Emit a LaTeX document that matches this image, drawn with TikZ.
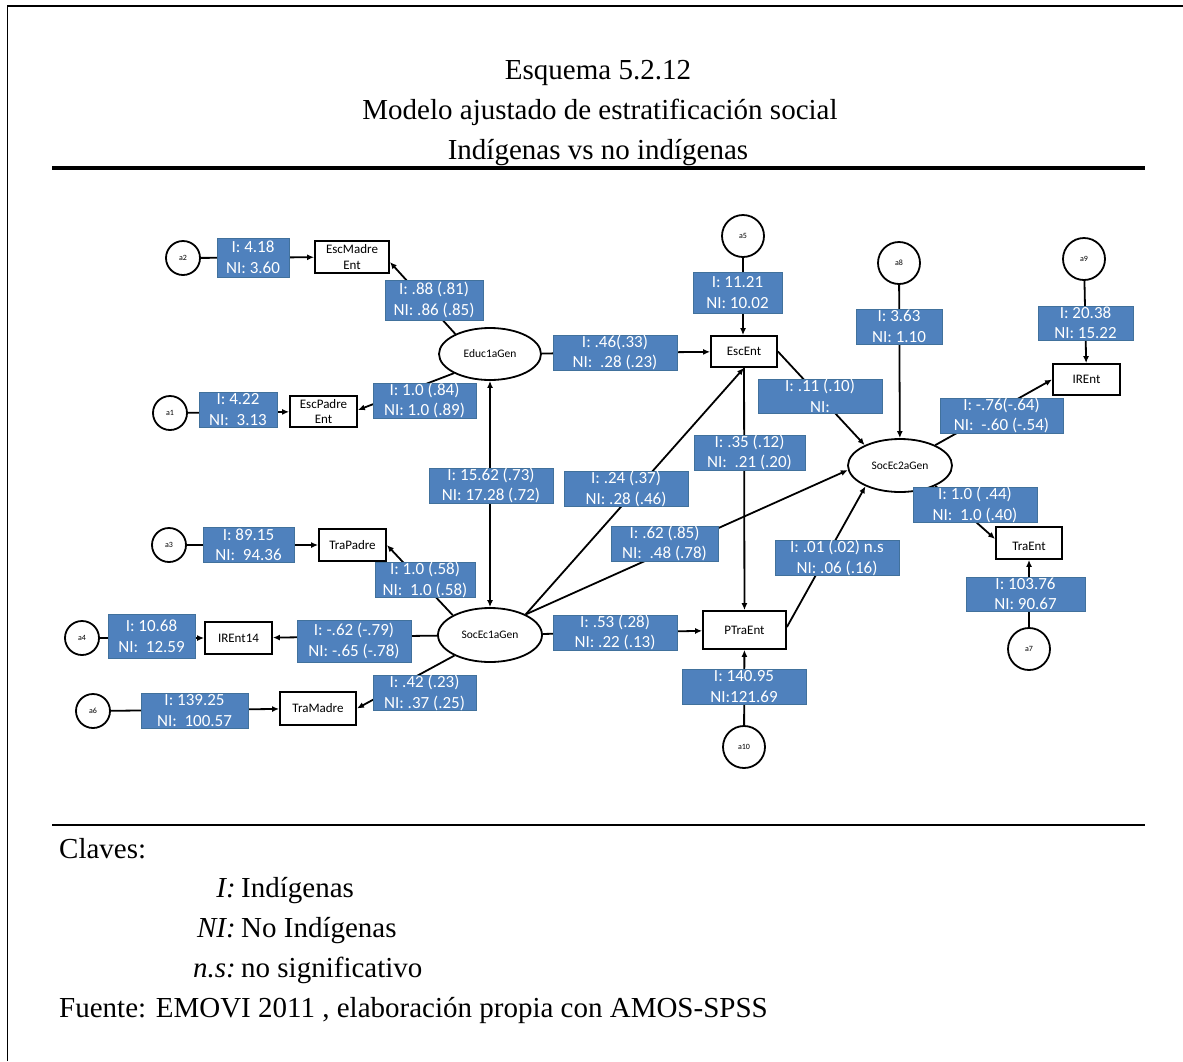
\documentclass[tikz,border=0pt]{standalone}
\usepackage{fontspec}
\setmainfont{Liberation Serif}
\newfontfamily\calfont{Carlito}
\usetikzlibrary{shapes.geometric,arrows.meta}
\definecolor{lblue}{HTML}{4F81BD}
\definecolor{lbord}{HTML}{41719C}
\begin{document}
\begin{tikzpicture}[x=1pt,y=-1pt,
  obs/.style={draw, line width=1.8pt, fill=white, align=center, inner sep=0pt,
    font=\calfont\fontsize{13}{15.5}\selectfont},
  lat/.style={ellipse, draw, line width=1.8pt, fill=white, inner sep=0pt,
    font=\calfont\fontsize{11.5}{13}\selectfont},
  err/.style={circle, draw, line width=1.8pt, fill=white, inner sep=0pt,
    font=\calfont\fontsize{8}{9}\selectfont},
  errs/.style={err, minimum size=34pt},
  errb/.style={err, minimum size=42pt},
  coef/.style={fill=lblue, draw=lbord, line width=0.6pt, text=white, align=center,
    inner sep=0pt, font=\calfont\fontsize{17}{20.5}\selectfont},
  arr/.style={line width=1.8pt, -{Latex[length=7pt,width=6pt]}},
  cov/.style={line width=1.8pt, {Latex[length=7pt,width=6pt]}-{Latex[length=7pt,width=6pt]}},
  ttl/.style={anchor=base, inner sep=0pt, font=\fontsize{29}{34}\selectfont},
  leg/.style={inner sep=0pt, font=\fontsize{29}{34}\selectfont}]
\useasboundingbox (0,0) rectangle (1183,1061);

% frame and rules
\draw[line width=1.5pt] (7.5,1061) -- (7.5,6) -- (1183,6);
\draw[line width=4pt] (52,167.5) -- (1145,167.5);
\draw[line width=2.5pt] (52,825) -- (1145,825);

% title
\node[ttl] (t1) at (598,79) {Esquema 5.2.12};
\node[ttl] (t2) at (600,119) {Modelo ajustado de estratificación social};
\node[ttl] (t3) at (598,159) {Indígenas vs no indígenas};

% latent variables
\node[lat, minimum width=102pt, minimum height=52pt] (educ) at (490,354) {Educ1aGen};
\node[lat, minimum width=104pt, minimum height=54pt] (socec1) at (490,635) {SocEc1aGen};
\node[lat, minimum width=104pt, minimum height=53pt] (socec2) at (900,465.5) {SocEc2aGen};

% observed variables
\node[obs, minimum width=74pt, minimum height=32pt] (emadre) at (352,257) {EscMadre\\Ent};
\node[obs, minimum width=67pt, minimum height=31pt] (epadre) at (323.5,411.5) {EscPadre\\Ent};
\node[obs, minimum width=66pt, minimum height=31pt] (escent) at (744,351.5) {EscEnt};
\node[obs, minimum width=67pt, minimum height=31pt] (irent) at (1086.5,379.5) {IREnt};
\node[obs, minimum width=66pt, minimum height=32pt] (traent) at (1029,543) {\raisebox{-7pt}[0pt][0pt]{TraEnt}};
\node[obs, minimum width=67pt, minimum height=32pt] (trapadre) at (352.5,545) {TraPadre};
\node[obs, minimum width=67pt, minimum height=32pt] (irent14) at (238.5,638) {IREnt14};
\node[obs, minimum width=76pt, minimum height=33pt] (tramadre) at (318,708.5) {TraMadre};
\node[obs, minimum width=83pt, minimum height=38pt] (ptraent) at (744.5,630) {PTraEnt};

% error terms
\node[errs] (a1) at (170,413) {a1};
\node[errs] (a2) at (183,258) {a2};
\node[errs] (a3) at (169,545) {a3};
\node[errs] (a4) at (82,638) {a4};
\node[errs] (a6) at (93,711) {a6};
\node[errb] (a5) at (743,236) {a5};
\node[errb] (a7) at (1029,649) {a7};
\node[errb] (a8) at (899,263) {a8};
\node[errb] (a9) at (1084,259) {a9};
\node[errb] (a10) at (744,747) {a10};

% paths
\draw[arr] (a2) -- (emadre);
\draw[arr] (educ.150) -- ([yshift=-5pt]emadre.east);
\draw[arr] (a1) -- (epadre);
\draw[arr] (educ.208) -- ([yshift=1.5pt]epadre.east);
\draw[arr] (educ) -- (escent);
\draw[arr] (a5) -- (a5 |- escent.north);
\draw[arr] (escent.east) -- (socec2.150);
\draw[arr] (a8) -- (socec2);
\draw[arr] (socec2.30) -- (irent.west);
\draw[arr] (a9) -- (irent);
\draw[arr] (socec2.330) -- ([yshift=4pt]traent.west);
\draw[arr] (a7) -- (traent);
\draw[arr] ([yshift=3pt]ptraent.east) -- (socec2.211);
\draw[arr] (escent) -- (ptraent);
\draw[arr] (a10) -- (ptraent);
\draw[arr] (socec1.30) -- (escent.south);
\draw[arr] (socec1.30) -- (socec2.185);
\draw[arr] (socec1) -- (ptraent);
\draw[cov] (educ) -- (socec1);
\draw[arr] (socec1.152) -- (trapadre.east);
\draw[arr] (a3) -- (trapadre);
\draw[arr] (socec1) -- (irent14);
\draw[arr] (a4) -- (irent14);
\draw[arr] (socec1.210) -- (tramadre.east);
\draw[arr] (a6) -- (tramadre);

% coefficients
\node[coef, minimum width=72pt, minimum height=39pt] (c1) at (253,257.5) {I: 4.18\\NI: 3.60};
\node[coef, minimum width=98pt, minimum height=40pt] (c2) at (434,300) {I: .88 (.81)\\NI: .86 (.85)};
\node[coef, minimum width=78pt, minimum height=35pt] (c3) at (238,409.5) {I: 4.22\\NI:\ \ 3.13};
\node[coef, minimum width=103pt, minimum height=35pt] (c4) at (424.5,400.5) {I: 1.0 (.84)\\NI: 1.0 (.89)};
\node[coef, minimum width=124pt, minimum height=33pt] (c5) at (615,352.5) {I: .46(.33)\\NI:\ \ .28 (.23)};
\node[coef, minimum width=89pt, minimum height=41pt] (c6) at (737.5,292.5) {I: 11.21\\NI: 10.02};
\node[coef, minimum width=86pt, minimum height=35pt] (c7) at (899,326.5) {I: 3.63\\NI: 1.10};
\node[coef, minimum width=95pt, minimum height=34pt] (c8) at (1085.5,323) {I: 20.38\\NI: 15.22};
\node[coef, minimum width=124pt, minimum height=34pt] (c9) at (820,396) {I: .11 (.10)\\NI:};
\node[coef, minimum width=123pt, minimum height=33pt] (c10) at (1001.5,415.5) {I: -.76(-.64)\\NI:\ \ -.60 (-.54)};
\node[coef, minimum width=124pt, minimum height=35pt] (c11) at (491,485.5) {I: 15.62 (.73)\\NI: 17.28 (.72)};
\node[coef, minimum width=91pt, minimum height=35pt] (c12) at (248.5,544.5) {I: 89.15\\NI:\ \ 94.36};
\node[coef, minimum width=100pt, minimum height=34pt] (c13) at (425,580) {I: 1.0 (.58)\\NI:\ \ 1.0 (.58)};
\node[coef, minimum width=111pt, minimum height=33pt] (c14) at (749.5,452.5) {I: .35 (.12)\\NI:\ \ .21 (.20)};
\node[coef, minimum width=124pt, minimum height=34pt] (c15) at (626,489) {I: .24 (.37)\\NI: .28 (.46)};
\node[coef, minimum width=107pt, minimum height=33pt] (c16) at (664.5,543.5) {I: .62 (.85)\\NI:\ \ .48 (.78)};
\node[coef, minimum width=124pt, minimum height=34pt] (c17) at (837,558) {I: .01 (.02) n.s\\NI: .06 (.16)};
\node[coef, minimum width=124pt, minimum height=34pt] (c18) at (975,505) {I: 1.0 ( .44)\\NI:\ \ 1.0 (.40)};
\node[coef, minimum width=119pt, minimum height=34pt] (c19) at (1025.5,594) {I: 103.76\\NI: 90.67};
\node[coef, minimum width=87pt, minimum height=44pt] (c20) at (151.5,636) {I: 10.68\\NI:\ \ 12.59};
\node[coef, minimum width=114pt, minimum height=42pt] (c21) at (354,641) {I: -.62 (-.79)\\NI: -.65 (-.78)};
\node[coef, minimum width=103pt, minimum height=34pt] (c22) at (424.5,693) {I: .42 (.23)\\NI: .37 (.25)};
\node[coef, minimum width=107pt, minimum height=35pt] (c23) at (194.5,710.5) {I: 139.25\\NI:\ \ 100.57};
\node[coef, minimum width=124pt, minimum height=35pt] (c24) at (615,632.5) {I: .53 (.28)\\NI: .22 (.13)};
\node[coef, minimum width=124pt, minimum height=35pt] (c25) at (744,686.5) {I: 140.95\\NI:121.69};

% key and source
\node[leg, anchor=base west] (k0) at (59,858) {Claves:};
\node[leg, anchor=base east] (k1) at (236,897) {\textit{I:}};
\node[leg, anchor=base west] (k1t) at (241,897) {Indígenas};
\node[leg, anchor=base east] (k2) at (236,937) {\textit{NI:}};
\node[leg, anchor=base west] (k2t) at (241,937) {No Indígenas};
\node[leg, anchor=base east] (k3) at (236,977) {\textit{n.s:}};
\node[leg, anchor=base west] (k3t) at (241,977) {no significativo};
\node[leg, anchor=base west] (src) at (59,1017) {Fuente: EMOVI 2011 , elaboración propia con AMOS-SPSS};
\end{tikzpicture}
\end{document}
